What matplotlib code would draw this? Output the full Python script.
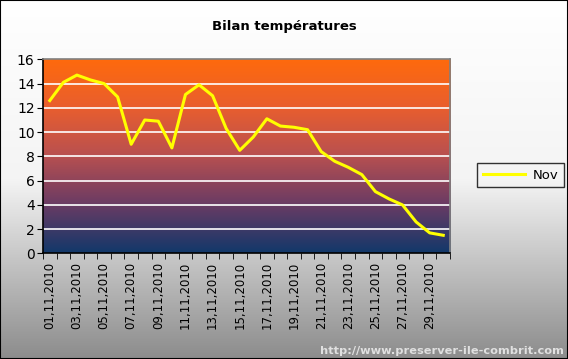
import numpy as np
import matplotlib
matplotlib.use("Agg")
import matplotlib.pyplot as plt
from matplotlib.colors import LinearSegmentedColormap
from matplotlib.patches import Rectangle

days = [f"{d:02d},11,2010" for d in range(1, 31)]
nov = [12.6, 14.1, 14.7, 14.3, 14.0, 12.9, 9.0, 11.0, 10.9, 8.7,
       13.1, 13.9, 13.0, 10.3, 8.5, 9.6, 11.1, 10.5, 10.4, 10.2,
       8.4, 7.6, 7.1, 6.5, 5.1, 4.5, 4.0, 2.6, 1.7, 1.5]
yticks = [0, 2, 4, 6, 8, 10, 12, 14, 16]

fig = plt.figure(figsize=(5.68, 3.59), dpi=100)

# figure background gradient
bg = fig.add_axes([0, 0, 1, 1], zorder=-10)
bg_cmap = LinearSegmentedColormap.from_list("bg", ["#ffffff", "#f4f4f4", "#8c8c8c"])
bg.imshow(np.linspace(0, 1, 256).reshape(-1, 1), aspect="auto", cmap=bg_cmap,
          extent=[0, 1, 0, 1], origin="upper")
bg.set_axis_off()
fig.add_artist(Rectangle((0, 0), 1, 1, transform=fig.transFigure, fill=False,
                         edgecolor="black", linewidth=1.5))

ax = fig.add_axes([0.0757, 0.2939, 0.7166, 0.5409])
x = np.arange(len(days))

cmap = LinearSegmentedColormap.from_list(
    "plot", [(0.0, "#ff6a0c"), (0.25, "#e95e2e"), (0.5, "#b85050"),
             (0.75, "#6a3b64"), (1.0, "#12386a")])
ax.imshow(np.linspace(0, 1, 256).reshape(-1, 1), aspect="auto", cmap=cmap,
          extent=[-0.5, len(days) - 0.5, 0, 16], origin="upper", zorder=0)
ax.set_xlim(-0.5, len(days) - 0.5)
ax.set_ylim(0, 16)

for yv in yticks[1:-1]:
    ax.axhline(yv, color="white", linewidth=1.2, zorder=1)

ax.plot(x, nov, color="#ffff00", linewidth=2.2, zorder=3, label="Nov")

ax.set_yticks(yticks)
ax.set_xticks(x[::2])
ax.set_xticklabels(days[::2], rotation=90, fontsize=8.5)
ax.set_xticks(np.arange(-0.5, len(days), 1), minor=True)
ax.tick_params(axis="x", which="major", length=0, pad=6)
ax.tick_params(axis="x", which="minor", length=4, direction="out", color="black")
ax.tick_params(axis="y", length=4, direction="out", labelsize=10, pad=2)

for s in ["left", "bottom"]:
    ax.spines[s].set_color("black")
    ax.spines[s].set_linewidth(1.2)
for s in ["top", "right"]:
    ax.spines[s].set_color("#808080")
    ax.spines[s].set_linewidth(1.2)

fig.text(0.5, 0.925, "Bilan températures", ha="center", va="center",
         fontsize=9.5, fontweight="bold")

leg = fig.legend(loc="center", bbox_to_anchor=(0.9164, 0.5125), frameon=True,
                 fontsize=9.5, handlelength=3.2, borderpad=0.45, handletextpad=0.6)
leg.get_frame().set_facecolor("none")
leg.get_frame().set_edgecolor("black")
leg.get_frame().set_boxstyle("square", pad=0)

fig.text(0.993, 0.008, "http://www.preserver-ile-combrit.com", ha="right", va="bottom",
         color="#e0e0e0", fontsize=8.2, fontweight="bold")

fig.savefig("out.png", dpi=100)
